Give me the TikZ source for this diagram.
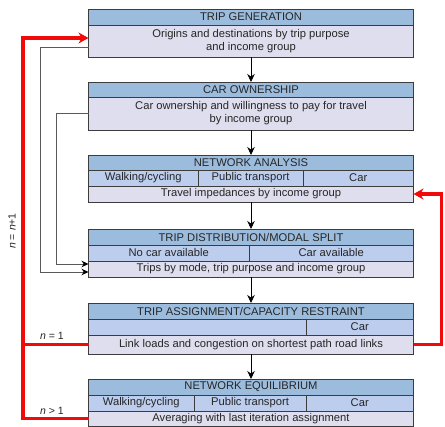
\documentclass[tikz,border=0pt]{standalone}
\usepackage{fontspec}
\setmainfont{Liberation Sans}
\usetikzlibrary{arrows.meta}
\definecolor{hdrblue}{RGB}{156,188,222}
\definecolor{rowblue}{RGB}{188,205,238}
\definecolor{bodylav}{RGB}{222,222,238}
\definecolor{edgegray}{RGB}{60,60,60}
\definecolor{linkgray}{RGB}{90,90,90}
\definecolor{loopred}{RGB}{240,10,10}
\tikzset{
  cell/.style={draw=edgegray, line width=0.9pt, inner sep=0pt, outer sep=0pt,
    font=\fontsize{11.2}{13}\selectfont, text=black!85, align=center},
  hdr/.style={cell, fill=hdrblue},
  moderow/.style={cell, fill=rowblue},
  body/.style={cell, fill=bodylav},
  flow/.style={-{Stealth[length=8pt,width=7.5pt]}, line width=0.8pt, black},
  feed/.style={line width=0.8pt, linkgray, -{Stealth[length=7pt,width=6.5pt,color=black]}},
  loop/.style={line width=3.4pt, loopred},
  looparrow/.style={loop, -{Stealth[length=10pt,width=11pt]}},
  lbl/.style={font=\fontsize{10.5}{12}\selectfont, text=black!85, inner sep=0pt}
}
% a filled cell from (x1,y1) to (x2,y2); the node text follows the call
\newcommand{\cellat}[6]{%
  \node[#1, minimum width={#5-#3}, minimum height={#6-#4}] (#2) at ({(#3+#5)/2},{(#4+#6)/2})}
\begin{document}
\begin{tikzpicture}[x=1pt,y=-1pt]
\useasboundingbox (0,0) rectangle (445,427);

% Trip generation
\cellat{hdr}{genh}{88.5}{9}{413.5}{25} {TRIP GENERATION};
\cellat{body}{genb}{88.5}{25}{413.5}{57} {Origins and destinations by trip purpose\\and income group};

% Car ownership
\cellat{hdr}{carh}{88.5}{82}{413.5}{97} {CAR OWNERSHIP};
\cellat{body}{carb}{88.5}{97}{413.5}{130} {Car ownership and willingness to pay for travel\\by income group};

% Network analysis
\cellat{hdr}{neth}{88.5}{155}{413.5}{170} {NETWORK ANALYSIS};
\cellat{moderow}{netw}{88.5}{170}{198}{186} {Walking/cycling};
\cellat{moderow}{netp}{198}{170}{303}{186} {Public transport};
\cellat{moderow}{netc}{303}{170}{413.5}{186} {Car};
\cellat{body}{netb}{88.5}{186}{413.5}{202} {Travel impedances by income group};

% Trip distribution / modal split
\cellat{hdr}{disth}{88.5}{229}{413.5}{245} {TRIP DISTRIBUTION/MODAL SPLIT};
\cellat{moderow}{distn}{88.5}{245}{249}{261} {No car available};
\cellat{moderow}{distc}{249}{245}{413.5}{261} {Car available};
\cellat{body}{distb}{88.5}{261}{413.5}{277} {Trips by mode, trip purpose and income group};

% Trip assignment / capacity restraint
\cellat{hdr}{assh}{88.5}{303}{413.5}{319} {TRIP ASSIGNMENT/CAPACITY RESTRAINT};
\cellat{moderow}{asse}{88.5}{319}{306}{335} {};
\cellat{moderow}{assc}{306}{319}{413.5}{335} {Car};
\cellat{body}{assb}{88.5}{335}{413.5}{354} {Link loads and congestion on shortest path road links};

% Network equilibrium
\cellat{hdr}{eqh}{88.5}{379}{413.5}{395} {NETWORK EQUILIBRIUM};
\cellat{moderow}{eqw}{88.5}{395}{194}{411} {Walking/cycling};
\cellat{moderow}{eqp}{194}{395}{306}{411} {Public transport};
\cellat{moderow}{eqc}{306}{395}{413.5}{411} {Car};
\cellat{body}{eqb}{88.5}{411}{413.5}{426.5} {Averaging with last iteration assignment};

% Main sequence
\draw[flow] (genb.south) -- (carh.north);
\draw[flow] (carb.south) -- (neth.north);
\draw[flow] (netb.south) -- (disth.north);
\draw[flow] (distb.south) -- (assh.north);
\draw[flow] (assb.south) -- (eqh.north);

% Direct inputs to trip distribution
\coordinate (gfrom) at (genb.west |- 0,47);
\coordinate (gto) at (distb.west |- 0,272);
\coordinate (cto) at (distb.west |- 0,264);
\draw[feed] (gfrom) -- (40,47) -- (40,272) -- (gto);
\draw[feed] (carb.west) -- (56,113.5) -- (56,264) -- (cto);

% Iteration loops
\coordinate (gin) at (genb.west |- 0,38);
\draw[looparrow] (eqb.west) -- (23,418.75) -- (23,38) -- (gin);
\draw[loop] (assb.west) -- (23,344.5);
\draw[looparrow] (assb.east) -- (441.5,344.5) -- (441.5,194) -- (netb.east);

% Loop labels
\node[lbl, rotate=90] (lblnn) at (12,231) {\textit{n} = \textit{n}+1};
\node[lbl] (lbl1) at (52,336) {\textit{n} = 1};
\node[lbl] (lbl2) at (52,411) {\textit{n} > 1};
\end{tikzpicture}
\end{document}
